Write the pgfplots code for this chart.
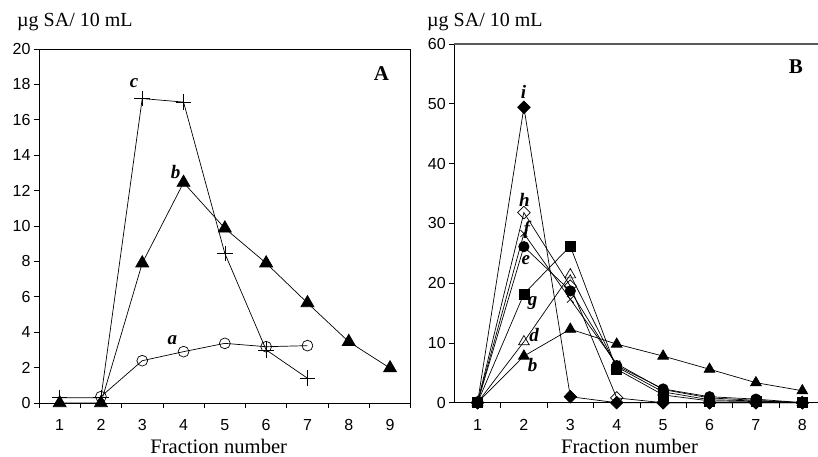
\documentclass[border=0pt]{standalone}
\usepackage{fontspec}
\setmainfont{Liberation Serif}
\newfontfamily\arial{Liberation Sans}
\usepackage{pgfplots}
\pgfplotsset{compat=1.18}

\pgfplotsset{
  fracaxis/.style={
    anchor=south west, scale only axis,
    xmin=0.5, ymin=0,
    major x tick style={draw=none},
    tick align=outside, tick pos=left,
    major tick length=5pt, minor tick length=5pt,
    every tick/.style={black, line width=0.7pt},
    axis line style={line width=0.8pt},
    tick label style={font=\arial\fontsize{16}{16}\selectfont},
    /pgf/number format/assume math mode=true,
    xticklabel shift=8pt,
    clip=false,
    every axis plot/.append style={black, line width=0.7pt},
  },
}
\tikzset{lab/.style={font=\bfseries\itshape\fontsize{19}{19}\selectfont}}

\begin{document}
\begin{tikzpicture}[x=1pt,y=1pt]
\path[use as bounding box] (0,0) rectangle (818,457);

% panel A
\begin{axis}[fracaxis,
  at={(39pt,54pt)}, width=371.7pt, height=354pt,
  xmax=9.5, ymax=20,
  xtick={1,...,9}, minor xtick={0.5,1.5,...,9.5},
  ytick={0,2,...,20},
]
\addplot[mark=+, mark size=7.8pt] coordinates {
  (1,0.3) (2,0.3) (3,17.2) (4,17.0) (5,8.45) (6,3.0) (7,1.4)
};
\addplot[mark=triangle*, mark size=7.5pt] coordinates {
  (1,0) (2,0) (3,7.9) (4,12.45) (5,9.87) (6,7.9) (7,5.65) (8,3.46) (9,1.97)
};
\addplot[mark=o, mark size=5.4pt, mark options={fill=white}] coordinates {
  (2,0.36) (3,2.39) (4,2.9) (5,3.37) (6,3.18) (7,3.24)
};
\node[lab] at (axis cs:2.80,18.06) {c};
\node[lab] at (axis cs:3.81,13.07) {b};
\node[lab] at (axis cs:3.73,3.56) {a};
\node[font=\bfseries\fontsize{21}{21}\selectfont] at (axis cs:8.79,18.63) {A};
\end{axis}

% panel B
\begin{axis}[fracaxis,
  at={(454.3pt,54.3pt)}, width=363.7pt, height=358.7pt,
  xmax=8.338, ymax=60,
  axis x line*=bottom, axis y line*=left,
  xtick={1,...,8}, minor xtick={1.5,2.5,...,7.5},
  ytick={0,10,...,60},
]
\draw[line width=1.2pt, black!65] (rel axis cs:0,1) -- (rel axis cs:1,1);
\addplot[mark=triangle*, mark size=6.2pt] coordinates {
  (1,0) (2,7.8) (3,12.3) (4,9.8) (5,7.8) (6,5.6) (7,3.35) (8,2.0)
};
\addplot[mark=triangle, mark size=6.2pt, mark options={fill=white}] coordinates {
  (1,0) (2,10.2) (3,21.4) (4,6.0) (5,1.8) (6,0.5) (7,0.3) (8,0)
};
\addplot[mark=square*, mark size=5pt] coordinates {
  (1,0) (2,18.2) (3,26.2) (4,5.6) (5,1.3) (6,0.3) (7,0.2) (8,0)
};
\addplot[mark=*, mark size=5.2pt] coordinates {
  (1,0) (2,26.1) (3,18.7) (4,6.2) (5,2.3) (6,1.0) (7,0.6) (8,0)
};
\addplot[mark=x, mark size=4.8pt] coordinates {
  (1,0) (2,28.3) (3,17.3) (4,6.5) (5,2.2) (6,0.8) (7,0.4) (8,0)
};
\addplot[mark=diamond, mark size=6.3pt, mark options={fill=white, xscale=1.33}] coordinates {
  (1,0) (2,31.8) (3,19.5) (4,0.8) (5,0) (6,0) (7,0) (8,0)
};
\addplot[mark=diamond*, mark size=6.3pt, mark options={xscale=1.33}] coordinates {
  (1,0) (2,49.4) (3,1.0) (4,0) (5,0) (6,0) (7,0) (8,0)
};
\node[lab] at (axis cs:1.99,52.0) {i};
\node[lab] at (axis cs:2.01,33.9) {h};
\node[lab] at (axis cs:2.06,28.9) {f};
\node[lab] at (axis cs:2.04,23.8) {e};
\node[lab] at (axis cs:2.19,16.6) {g};
\node[lab] at (axis cs:2.22,11.4) {d};
\node[lab] at (axis cs:2.19,6.3) {b};
\node[font=\bfseries\fontsize{21}{21}\selectfont] at (axis cs:7.86,56.2) {B};
\end{axis}

\node[anchor=base west, font=\fontsize{20}{20}\selectfont, inner sep=0pt] at (17,430) {µg SA/ 10 mL};
\node[anchor=base west, font=\fontsize{20}{20}\selectfont, inner sep=0pt] at (427,430) {µg SA/ 10 mL};
\node[anchor=base, font=\fontsize{20.6}{20.6}\selectfont, inner sep=0pt] at (218.7,3) {Fraction number};
\node[anchor=base, font=\fontsize{20.6}{20.6}\selectfont, inner sep=0pt] at (629.5,3) {Fraction number};
\end{tikzpicture}
\end{document}
